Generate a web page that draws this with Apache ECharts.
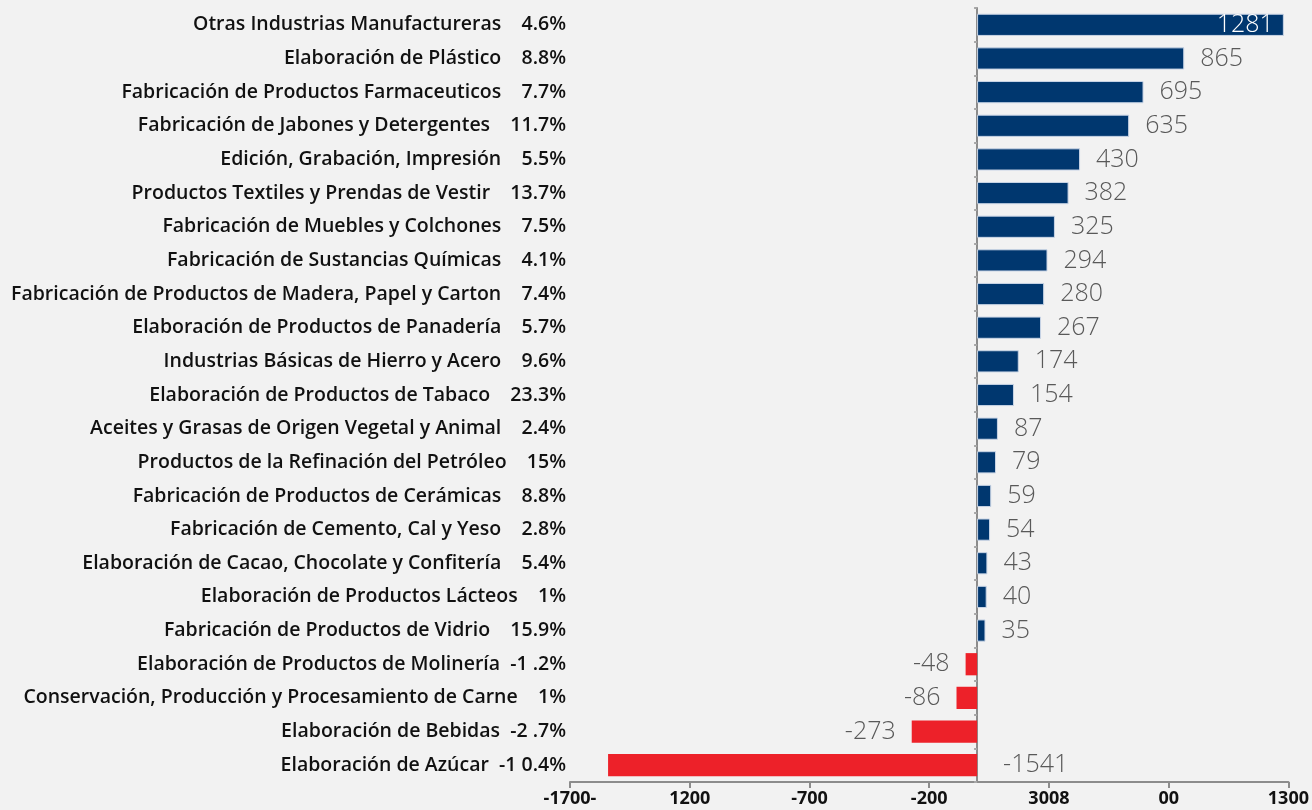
<!DOCTYPE html>
<html>
<head>
<meta charset="utf-8">
<script src="https://cdn.jsdelivr.net/npm/echarts@6/dist/echarts.min.js"></script>
<style>
  html, body { margin: 0; padding: 0; background: #f2f2f2; }
  #chart { width: 1312px; height: 810px; }
</style>
</head>
<body>
<div id="chart"></div>
<script>
// Sector names, top to bottom
const categories = [
  'Otras Industrias Manufactureras',
  'Elaboración de Plástico',
  'Fabricación de Productos Farmaceuticos',
  'Fabricación de Jabones y Detergentes',
  'Edición, Grabación, Impresión',
  'Productos Textiles y Prendas de Vestir',
  'Fabricación de Muebles y Colchones',
  'Fabricación de Sustancias Químicas',
  'Fabricación de Productos de Madera, Papel y Carton',
  'Elaboración de Productos de Panadería',
  'Industrias Básicas de Hierro y Acero',
  'Elaboración de Productos de Tabaco',
  'Aceites y Grasas de Origen Vegetal y Animal',
  'Productos de la Refinación del Petróleo',
  'Fabricación de Productos de Cerámicas',
  'Fabricación de Cemento, Cal y Yeso',
  'Elaboración de Cacao, Chocolate y Confitería',
  'Elaboración de Productos Lácteos',
  'Fabricación de Productos de Vidrio',
  'Elaboración de Productos de Molinería',
  'Conservación, Producción y Procesamiento de Carne',
  'Elaboración de Bebidas',
  'Elaboración de Azúcar'
];

// Percentage shown next to each name (as printed in the source)
const shares = [
  '4.6%', '8.8%', '7.7%', '11.7%', '5.5%', '13.7%', '7.5%', '4.1%', '7.4%',
  '5.7%', '9.6%', '23.3%', '2.4%', '15%', '8.8%', '2.8%', '5.4%', '1%',
  '15.9%', '-1 .2%', '1%', '-2 .7%', '-1 0.4%'
];

// Bar values
const values = [
  1281, 865, 695, 635, 430, 382, 325, 294, 280, 267, 174, 154, 87, 79,
  59, 54, 43, 40, 35, -48, -86, -273, -1541
];

// Axis tick labels, left to right (as printed in the source)
const tickLabels = ['-1700-', '1200', '-700', '-200', '3008', '00', '1300'];
const axisMin = -1700;
const axisMax = 1300;
const axisStep = 500;

const labelFont = '"Open Sans", "DejaVu Sans", sans-serif';

const seriesData = values.map(v => {
  let position = v >= 0 ? 'right' : 'left';
  let color = '#595959';
  let distance = 16;
  if (v > 1000) {
    position = 'insideRight';
    color = '#ffffff';
    distance = 10;
  } else if (v < -1000) {
    position = 'right';
    distance = 26;
  }
  return {
    value: v,
    itemStyle: v >= 0
      ? { color: '#00376f', borderColor: '#c9d5e6', borderWidth: 1 }
      : { color: '#ed2129' },
    label: { show: true, position, color, distance }
  };
});

// name and share joined like the source labels
const rowLabels = categories.map((c, i) =>
  c + (shares[i].startsWith('-') ? '  ' : '    ') + shares[i]);

const chart = echarts.init(document.getElementById('chart'));

chart.setOption({
  backgroundColor: '#f2f2f2',
  animation: false,
  grid: { left: 570, right: 23, top: 8, bottom: 28, containLabel: false },
  xAxis: {
    type: 'value',
    min: axisMin,
    max: axisMax,
    interval: axisStep,
    splitLine: { show: false },
    axisLine: { show: true, lineStyle: { color: '#8c8c8c', width: 2 } },
    axisTick: { show: true, length: 6, lineStyle: { color: '#8c8c8c', width: 2 } },
    axisLabel: {
      margin: 8,
      color: '#111',
      fontFamily: labelFont,
      fontWeight: 'bold',
      fontSize: 18,
      formatter: value => tickLabels[Math.round((value - axisMin) / axisStep)] ?? ''
    }
  },
  yAxis: [
    {
      type: 'category',
      inverse: true,
      data: rowLabels,
      axisLine: { show: false, onZero: false },
      axisTick: { show: false },
      axisLabel: {
        margin: 4,
        color: '#111',
        fontFamily: labelFont,
        fontWeight: 600,
        fontSize: 19.5
      }
    },
    {
      type: 'category',
      inverse: true,
      position: 'left',
      data: categories,
      axisLine: { show: true, onZero: true, lineStyle: { color: '#8c8c8c', width: 2 } },
      axisTick: { show: true, length: 3, lineStyle: { color: '#a6a6a6', width: 2 } },
      axisLabel: { show: false }
    }
  ],
  series: [
    {
      type: 'bar',
      yAxisIndex: 0,
      barWidth: '66%',
      data: seriesData,
      label: {
        fontFamily: labelFont,
        fontWeight: 300,
        fontSize: 25
      }
    }
  ]
});
</script>
</body>
</html>
